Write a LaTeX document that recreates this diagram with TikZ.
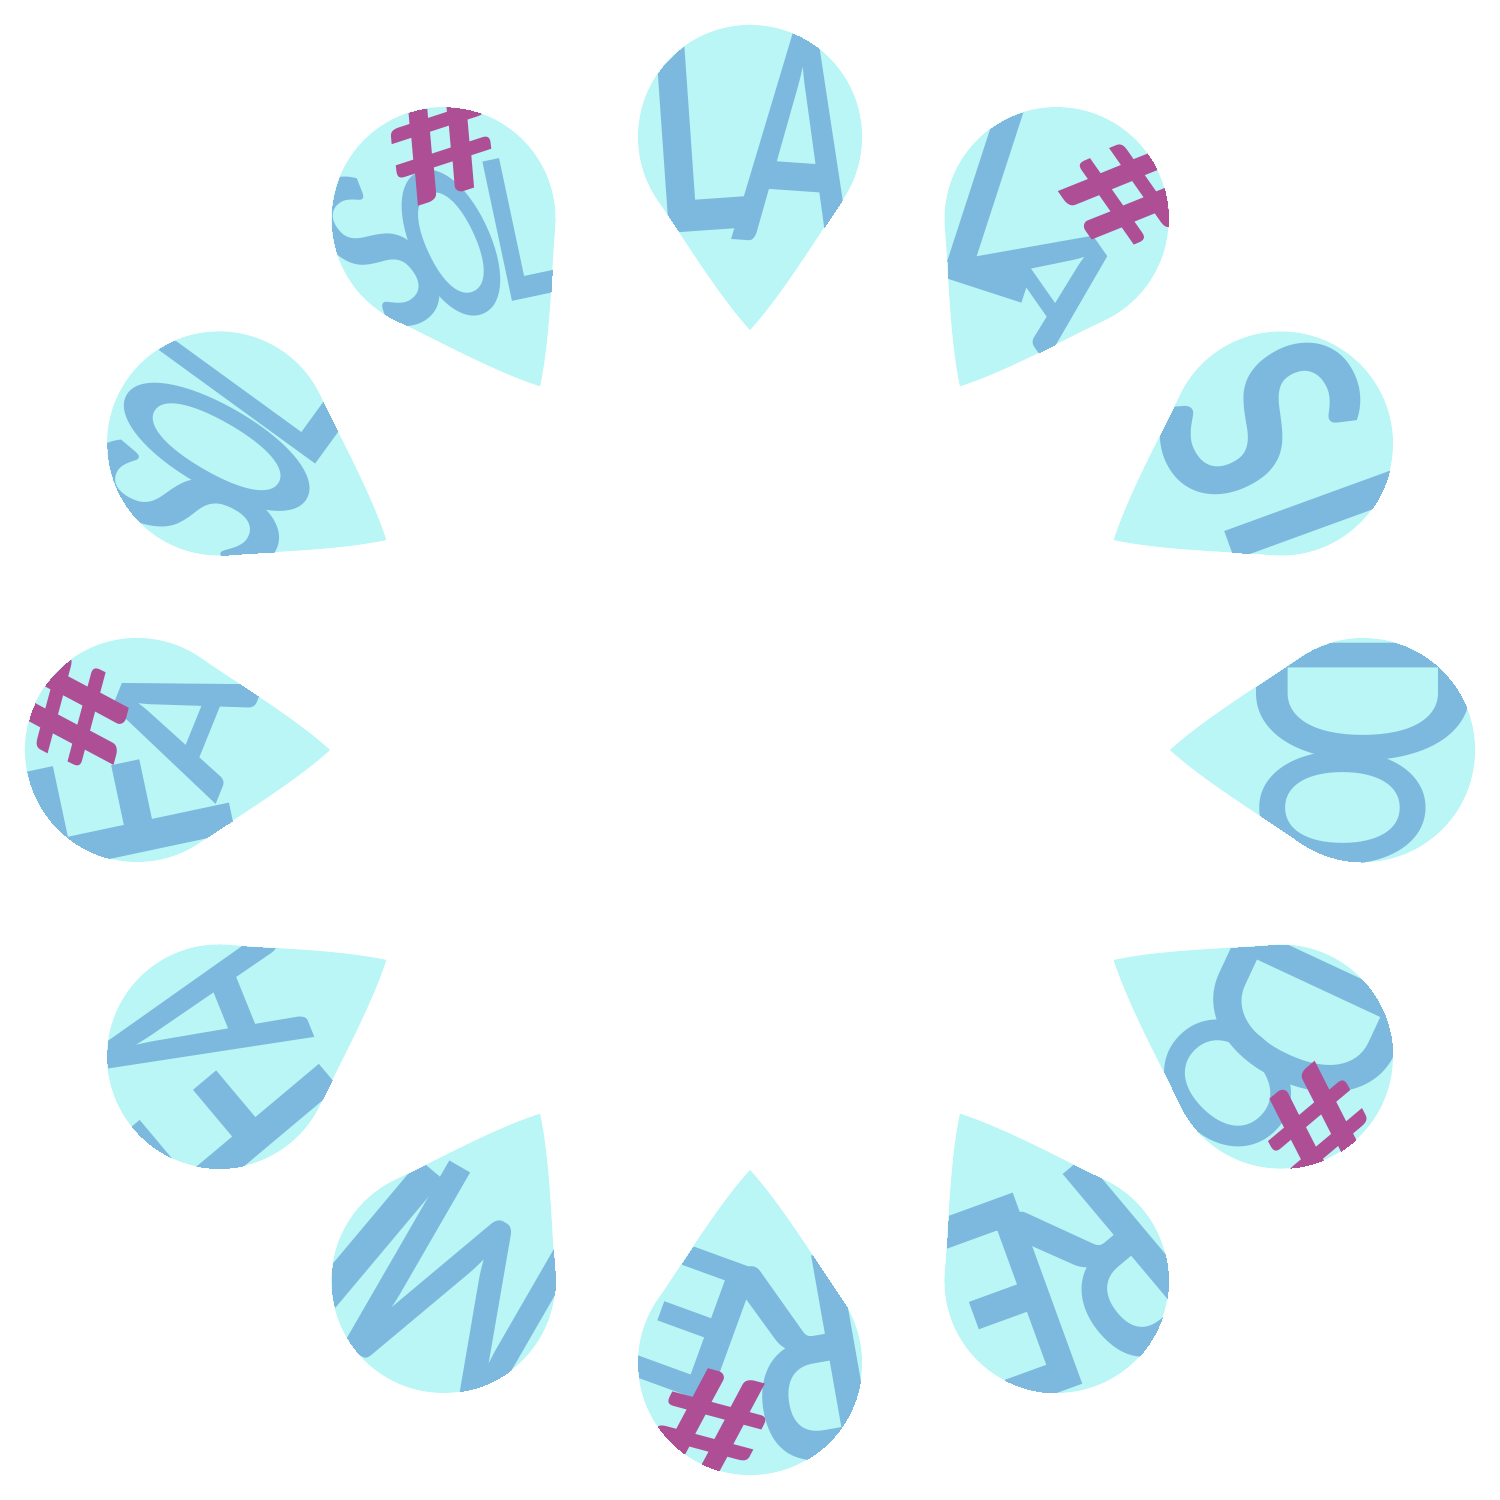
\documentclass[tikz,border=0pt]{standalone}
\usepackage{fontspec}
\setmainfont{Lato}
\definecolor{petalc}{HTML}{B9F6F5}
\definecolor{letc}{HTML}{7DB9DE}
\definecolor{sharpc}{HTML}{AE4F95}
\tikzset{
  lt/.style={font=\fontsize{80}{80}\selectfont\bfseries, text=letc, inner sep=0pt, anchor=center, transform shape},
  shp/.style={font=\fontsize{80}{80}\selectfont\bfseries, text=sharpc, inner sep=0pt, anchor=center, transform shape}
}
\newcommand\petalpath{(0,-193) .. controls (-33.5,-156) and (-68.7,-97) .. (-91.7,-64.2) arc[start angle=215, end angle=-35, radius=112] .. controls (68.7,-97) and (33.5,-156) .. (0,-193) -- cycle}
\newcommand\lt[6]{\node[lt,rotate=#3,xscale=#4,yscale=#5] at (#1,#2) {#6};}
\newcommand\sh[4]{\node[shp,rotate=#3,xscale=1.25*#4,yscale=#4] at (#1,#2) {\#};}
\newcommand\petal[2]{%
  \begin{scope}[shift={(#1:613)}, rotate=#1-90]
    \fill[petalc] \petalpath;
    \begin{scope}
      \clip \petalpath;
      #2
    \end{scope}
  \end{scope}}
\begin{document}
\begin{tikzpicture}[x=0.01cm,y=0.01cm]
\fill[white] (-750,-750) rectangle (750,750);
\useasboundingbox (-750,-750) rectangle (750,750);
% LA
\petal{90}{\lt{-50}{8}{4}{0.75}{1.0}{L}\lt{48}{0}{-4}{0.6}{1.05}{A}}
% LA#
\petal{60}{\lt{-55}{-5}{12}{0.7}{0.95}{L}\lt{28}{-52}{-25}{0.65}{0.55}{A}\sh{50}{58}{-25}{0.55}}
% SI
\petal{30}{\lt{-32}{-5}{0}{0.8}{1.0}{S}\lt{80}{0}{-10}{0.8}{0.95}{I}}
% DO
\petal{0}{\lt{-52}{0}{0}{0.65}{1.05}{D}\lt{58}{-20}{0}{0.55}{0.8}{O}}
% DO#
\petal{-30}{\lt{-45}{2}{5}{0.7}{0.95}{D}\lt{50}{-32}{-15}{0.55}{0.65}{O}\sh{46}{70}{-20}{0.55}}
% RE
\petal{-60}{\lt{-55}{15}{10}{0.72}{1.0}{R}\lt{52}{-5}{-10}{0.72}{1.0}{E}}
% RE#
\petal{-90}{\lt{-58}{-3}{10}{0.72}{1.0}{R}\lt{55}{-40}{-20}{0.7}{0.7}{E}\sh{40}{64}{-15}{0.55}}
% MI
\petal{-120}{\lt{-25}{0}{0}{0.72}{1.05}{M}\lt{82}{5}{-10}{0.8}{0.95}{I}}
% FA
\petal{-150}{\lt{-60}{20}{10}{0.8}{1.0}{F}\lt{42}{0}{-8}{0.6}{1.0}{A}}
% FA#
\petal{180}{\lt{-58}{5}{12}{0.8}{0.95}{F}\lt{30}{-42}{-22}{0.65}{0.65}{A}\sh{40}{66}{-15}{0.55}}
% SOL
\petal{150}{\lt{-72}{0}{6}{0.55}{1.0}{S}\lt{-4}{0}{0}{0.4}{1.0}{O}\lt{64}{0}{-6}{0.46}{0.95}{L}}
% SOL#
\petal{120}{\lt{-75}{5}{10}{0.52}{0.82}{S}\lt{-5}{-25}{-5}{0.38}{0.75}{O}\lt{62}{-45}{-18}{0.45}{0.7}{L}\sh{38}{70}{-12}{0.55}}
\end{tikzpicture}
\end{document}
